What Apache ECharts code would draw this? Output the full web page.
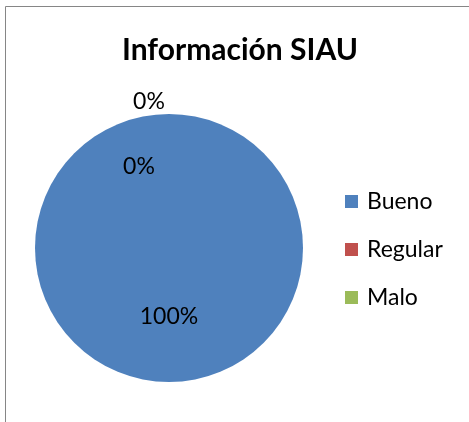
<!DOCTYPE html>
<html>
<head>
<meta charset="utf-8">
<script src="https://cdn.jsdelivr.net/npm/echarts@6/dist/echarts.min.js"></script>
<style>
  html, body { margin: 0; padding: 0; background: #fff; }
  #cnv { width: 469px; height: 422px; }
</style>
</head>
<body>
<div id="cnv"></div>
<script>
var categories = ["Bueno", "Regular", "Malo"];
var values = [100, 0, 0];
var colors = ["#4F81BD", "#C0504D", "#9BBB59"];

var main = document.getElementById("cnv");
var myechart = echarts.init(main);

var data = categories.map(function (name, i) {
    return { name: name, value: values[i], itemStyle: { color: colors[i] } };
});

// shifts for the two 0% labels (they sit at the top of the pie otherwise)
var labelShift = [[0, -1], [-30, -11], [-20, -76]];

var option = {
    animation: false,
    title: {
        text: "Información SIAU",
        left: 240,
        textAlign: "center",
        top: 35,
        padding: 0,
        textStyle: { fontFamily: "Lato", fontWeight: "bold", fontSize: 30, color: "#000" }
    },
    legend: {
        orient: "vertical",
        left: 345,
        top: 189,
        padding: 0,
        icon: "rect",
        itemWidth: 13,
        itemHeight: 13,
        itemGap: 23,
        selectedMode: false,
        textStyle: { fontFamily: "Lato", fontSize: 23, color: "#000", lineHeight: 25, padding: [0, 0, 0, 4] },
        data: categories
    },
    graphic: [{
        type: "rect",
        shape: { x: 5.5, y: 6.5, width: 600, height: 600 },
        style: { fill: null, stroke: "#868686", lineWidth: 1 }
    }],
    series: [{
        type: "pie",
        center: [169, 248],
        radius: 134,
        startAngle: 90,
        avoidLabelOverlap: false,
        label: {
            show: true,
            position: "inside",
            formatter: "{d}%",
            fontFamily: "Lato",
            fontSize: 23,
            color: "#000"
        },
        labelLine: { show: false },
        labelLayout: function (params) {
            var s = labelShift[params.dataIndex];
            return { dx: s[0], dy: s[1] };
        },
        emphasis: { disabled: true },
        data: data
    }]
};
myechart.setOption(option);
</script>
</body>
</html>
